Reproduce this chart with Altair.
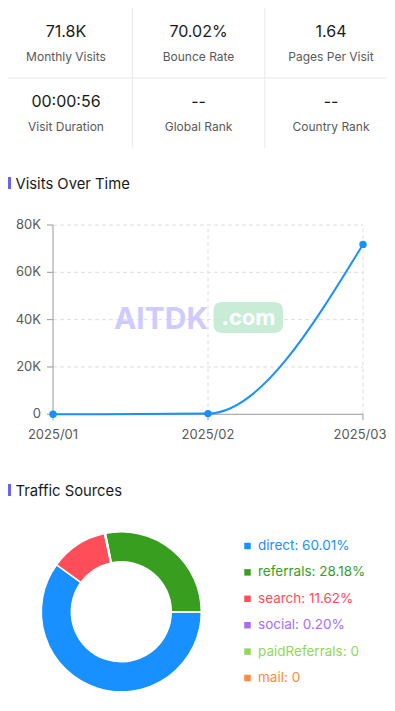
import altair as alt
import pandas as pd

# ---------------- data ----------------
stat_values = ["71.8K", "70.02%", "1.64", "00:00:56", "--", "--"]
stat_labels = ["Monthly Visits", "Bounce Rate", "Pages Per Visit",
               "Visit Duration", "Global Rank", "Country Rank"]

section_titles = ["Visits Over Time", "Traffic Sources"]

months = ["2025/01", "2025/02", "2025/03"]
visits = [0, 300, 71800]
y_ticks = [0, 20000, 40000, 60000, 80000]
y_tick_labels = ["0", "20K", "40K", "60K", "80K"]

sources = ["direct", "referrals", "search", "social", "paidReferrals", "mail"]
shares = [60.01, 28.18, 11.62, 0.20, 0, 0]
source_colors = ["#1890ff", "#389e1f", "#ff4d5a", "#a66cff", "#95d65a", "#ff8a3d"]
arc_order = [0, 3, 1, 2, 4, 5]  # clockwise order of slices starting at 3 o'clock

FONT = "Inter"
W, H = 379, 688

# ---------------- stats grid ----------------
stats_df = pd.DataFrame({
    "col": [i % 3 for i in range(6)],
    "row": [i // 3 for i in range(6)],
    "value": stat_values,
    "label": stat_labels,
})
sx = alt.Scale(domain=[-0.5, 2.5], range=[-8.25, 389.25])
sy = alt.Scale(domain=[-0.5, 1.5], range=[0, 140])

vdiv = pd.DataFrame({"col": [0.5, 1.5], "r0": [-0.5, -0.5], "r1": [1.5, 1.5]})
hdiv = pd.DataFrame({"row": [0.5], "c0": [-0.5], "c1": [2.5]})

stats_vals = alt.Chart(stats_df).mark_text(
    font=FONT, fontSize=16, color="#1a1a1a", dy=-11, baseline="middle"
).encode(
    x=alt.X("col:Q", scale=sx, axis=None),
    y=alt.Y("row:Q", scale=sy, axis=None),
    text="value:N",
)
stats_labs = alt.Chart(stats_df).mark_text(
    font=FONT, fontSize=12, color="#595959", dy=14, baseline="middle"
).encode(
    x=alt.X("col:Q", scale=sx, axis=None),
    y=alt.Y("row:Q", scale=sy, axis=None),
    text="label:N",
)
vrules = alt.Chart(vdiv).mark_rule(color="#e8e8e8", strokeWidth=1).encode(
    x=alt.X("col:Q", scale=sx, axis=None),
    y=alt.Y("r0:Q", scale=sy, axis=None),
    y2="r1:Q",
)
hrules = alt.Chart(hdiv).mark_rule(color="#e8e8e8", strokeWidth=1).encode(
    y=alt.Y("row:Q", scale=sy, axis=None),
    x=alt.X("c0:Q", scale=sx, axis=None),
    x2="c1:Q",
)
stats = alt.layer(vrules, hrules, stats_vals, stats_labs)

# ---------------- section headers ----------------
head_df = pd.DataFrame({"slot": [0, 1], "title": section_titles})
hy = alt.Scale(domain=[0, 1], range=[181, 488])
head_text = alt.Chart(head_df).mark_text(
    font=FONT, fontSize=14.8, color="#1a1a1a", align="left", baseline="alphabetic"
).encode(
    x=alt.value(7.5),
    y=alt.Y("slot:Q", scale=hy, axis=None),
    text="title:N",
)
head_bar = alt.Chart(head_df).mark_rule(
    color="#6c5ffc", strokeWidth=3, y2Offset=-12
).encode(
    x=alt.value(1.5),
    y=alt.Y("slot:Q", scale=hy, axis=None),
    y2="slot:Q",
)
headers = alt.layer(head_bar, head_text)

# ---------------- visits over time ----------------
line_df = pd.DataFrame({"idx": list(range(len(months))), "month": months, "visits": visits})
ytick_df = pd.DataFrame({"v": y_ticks, "lab": y_tick_labels, "i0": 0, "i1": len(months) - 1})
xtick_df = pd.DataFrame({"idx": list(range(len(months))), "month": months,
                         "v0": 0, "v1": y_ticks[-1]})
last_idx = len(months) - 1

lx = alt.Scale(domain=[0, len(months) - 1], range=[45, 355])
ly = alt.Scale(domain=[0, y_ticks[-1]], range=[406.3, 217])

GRID = "#dedede"
AXIS = "#9a9a9a"

hgrid = alt.Chart(ytick_df).transform_filter("datum.v > 0").mark_rule(
    color=GRID, strokeDash=[4, 3], strokeWidth=1
).encode(
    y=alt.Y("v:Q", scale=ly, axis=None),
    x=alt.X("i0:Q", scale=lx, axis=None), x2="i1:Q",
)
vgrid = alt.Chart(xtick_df).transform_filter("datum.idx > 0").mark_rule(
    color=GRID, strokeDash=[4, 3], strokeWidth=1
).encode(
    x=alt.X("idx:Q", scale=lx, axis=None),
    y=alt.Y("v0:Q", scale=ly, axis=None), y2="v1:Q",
)
yaxis_line = alt.Chart(xtick_df).transform_filter("datum.idx == 0").mark_rule(
    color=AXIS, strokeWidth=1
).encode(
    x=alt.X("idx:Q", scale=lx, axis=None),
    y=alt.Y("v0:Q", scale=ly, axis=None), y2="v1:Q",
)
xaxis_line = alt.Chart(ytick_df).transform_filter("datum.v == 0").mark_rule(
    color=AXIS, strokeWidth=1
).encode(
    y=alt.Y("v:Q", scale=ly, axis=None),
    x=alt.X("i0:Q", scale=lx, axis=None), x2="i1:Q",
)
yticks = alt.Chart(ytick_df).mark_rule(color=AXIS, strokeWidth=1, x2Offset=-6).encode(
    y=alt.Y("v:Q", scale=ly, axis=None),
    x=alt.X("i0:Q", scale=lx, axis=None), x2="i0:Q",
)
xticks = alt.Chart(xtick_df).mark_rule(color=AXIS, strokeWidth=1, y2Offset=6).encode(
    x=alt.X("idx:Q", scale=lx, axis=None),
    y=alt.Y("v0:Q", scale=ly, axis=None), y2="v0:Q",
)
ylabels = alt.Chart(ytick_df).mark_text(
    font=FONT, fontSize=13, color="#595959", align="right", baseline="middle", dx=-12
).encode(
    y=alt.Y("v:Q", scale=ly, axis=None),
    x=alt.X("i0:Q", scale=lx, axis=None),
    text="lab:N",
)
xlabels = alt.Chart(xtick_df).transform_filter(f"datum.idx < {last_idx}").mark_text(
    font=FONT, fontSize=13, color="#595959", align="center", baseline="middle", dy=21
).encode(
    x=alt.X("idx:Q", scale=lx, axis=None),
    y=alt.Y("v0:Q", scale=ly, axis=None),
    text="month:N",
)
xlabel_last = alt.Chart(xtick_df).transform_filter(f"datum.idx == {last_idx}").mark_text(
    font=FONT, fontSize=13, color="#595959", align="right", baseline="middle",
    dy=21, dx=23.5
).encode(
    x=alt.X("idx:Q", scale=lx, axis=None),
    y=alt.Y("v0:Q", scale=ly, axis=None),
    text="month:N",
)
vline = alt.Chart(line_df).mark_line(
    interpolate="monotone", color="#1890ff", strokeWidth=2
).encode(
    x=alt.X("idx:Q", scale=lx, axis=None),
    y=alt.Y("visits:Q", scale=ly, axis=None),
)
vpts = alt.Chart(line_df).mark_circle(color="#1890ff", size=55, opacity=1).encode(
    x=alt.X("idx:Q", scale=lx, axis=None),
    y=alt.Y("visits:Q", scale=ly, axis=None),
)

# watermark (decoration)
wm_df = pd.DataFrame({"a": ["AITDK"], "b": [".com"]})
wm_text = alt.Chart(wm_df).mark_text(
    font=FONT, fontSize=30, fontWeight="bold", color="#cbc6ff", opacity=0.9,
    align="center", baseline="middle"
).encode(x=alt.value(153), y=alt.value(312), text="a:N")
wm_box = alt.Chart(wm_df).mark_rect(color="#bfe9cf", opacity=0.85, cornerRadius=8).encode(
    x=alt.value(205.5), x2=alt.value(275), y=alt.value(294), y2=alt.value(325)
)
wm_com = alt.Chart(wm_df).mark_text(
    font=FONT, fontSize=22, fontWeight="bold", color="#ffffff",
    align="center", baseline="middle"
).encode(x=alt.value(240.5), y=alt.value(310), text="b:N")

visits_chart = alt.layer(hgrid, vgrid, yaxis_line, xaxis_line, yticks, xticks,
                         ylabels, xlabels, xlabel_last, wm_text, wm_box, wm_com,
                         vline, vpts)

# ---------------- traffic sources ----------------
src_df = pd.DataFrame({
    "name": sources,
    "share": shares,
    "ord": arc_order,
    "idx": list(range(len(sources))),
    "label": [f"{n}: {v:.2f}%" if v > 0 else f"{n}: 0" for n, v in zip(sources, shares)],
})
cscale = alt.Scale(domain=sources, range=source_colors)
gy = alt.Scale(domain=[0, len(sources) - 1], range=[538, 670])

donut = alt.Chart(src_df).mark_arc(
    innerRadius=50, outerRadius=80, stroke="#ffffff", strokeWidth=1.5
).encode(
    theta=alt.Theta("share:Q", stack=True,
                    scale=alt.Scale(range=[1.5707963, 7.8539816])),
    order=alt.Order("ord:Q"),
    color=alt.Color("name:N", scale=cscale, legend=None),
    x=alt.value(113.3),
    y=alt.value(603.8),
)
leg_sq = alt.Chart(src_df).mark_square(size=42, opacity=1).encode(
    x=alt.value(239.5),
    y=alt.Y("idx:Q", scale=gy, axis=None),
    color=alt.Color("name:N", scale=cscale, legend=None),
)
leg_tx = alt.Chart(src_df).mark_text(
    font=FONT, fontSize=13.5, align="left", baseline="middle"
).encode(
    x=alt.value(250),
    y=alt.Y("idx:Q", scale=gy, axis=None),
    color=alt.Color("name:N", scale=cscale, legend=None),
    text="label:N",
)
sources_chart = alt.layer(donut, leg_sq, leg_tx)

# ---------------- compose ----------------
chart = alt.layer(stats, headers, visits_chart, sources_chart).resolve_scale(
    x="independent", y="independent", color="independent", theta="independent"
).properties(
    width=W, height=H, autosize="none", padding=0
).configure_view(stroke=None)

chart.save("out.html", embed_options={"renderer": "svg", "actions": False})
